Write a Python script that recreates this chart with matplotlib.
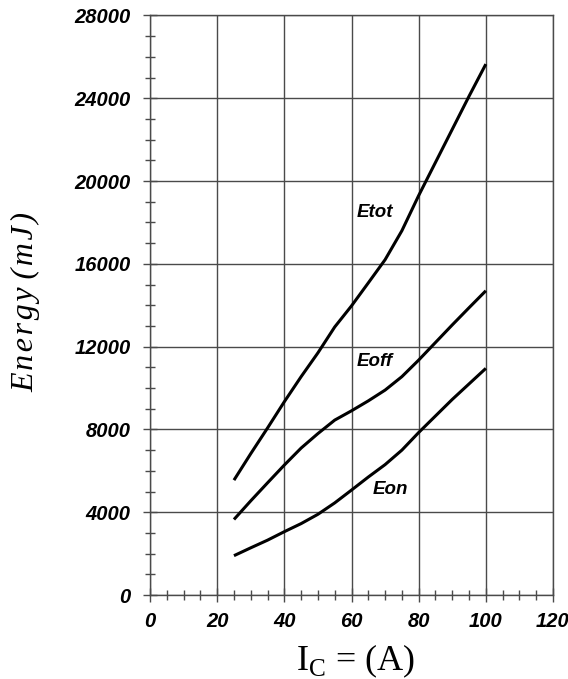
import matplotlib
matplotlib.use("Agg")
import matplotlib.pyplot as plt
from matplotlib.ticker import MultipleLocator

# Switching energy vs collector current
ic = [25, 30, 35, 40, 45, 50, 55, 60, 65, 70, 75, 80, 85, 90, 95, 100]
e_on = [1900, 2280, 2650, 3060, 3450, 3900, 4450, 5070, 5700, 6300, 7000,
        7850, 8650, 9450, 10200, 10950]
e_off = [3650, 4550, 5420, 6280, 7100, 7800, 8450, 8900, 9380, 9900, 10550,
         11350, 12200, 13050, 13880, 14700]
e_tot = [5550, 6830, 8070, 9340, 10550, 11700, 12950, 13970, 15080, 16200,
         17600, 19300, 20900, 22500, 24100, 25650]

curve_names = ["Etot", "Eoff", "Eon"]
label_pos = [(61.6, 18470), (61.5, 11300), (66.4, 5100)]

plt.rcParams["mathtext.fontset"] = "custom"
plt.rcParams["mathtext.rm"] = "Liberation Serif"

GRID = "#4a4a4a"

fig = plt.figure(figsize=(5.68, 6.79), dpi=100)
ax = fig.add_axes([0.2641, 0.1237, 0.7095, 0.8535])

for y in (e_tot, e_off, e_on):
    ax.plot(ic, y, color="black", lw=2.2, solid_capstyle="butt", zorder=3)

for name, (x, y) in zip(curve_names, label_pos):
    ax.text(x, y, name, ha="left", va="center", fontsize=13.5,
            family="Liberation Sans", weight="bold", style="italic")

ax.set_xlim(0, 120)
ax.set_ylim(0, 28000)
ax.xaxis.set_major_locator(MultipleLocator(20))
ax.xaxis.set_minor_locator(MultipleLocator(5))
ax.yaxis.set_major_locator(MultipleLocator(4000))
ax.yaxis.set_minor_locator(MultipleLocator(1000))

ax.grid(which="major", color=GRID, lw=1.0)
for s in ax.spines.values():
    s.set_color(GRID)
    s.set_linewidth(1.0)

ax.tick_params(which="major", direction="inout", length=10, width=1.0,
               color=GRID, pad=7)
ax.tick_params(which="minor", direction="inout", length=7.5, width=1.0,
               color=GRID)
ax.tick_params(axis="y", which="major", pad=9)

for lab in ax.get_xticklabels() + ax.get_yticklabels():
    lab.set_fontfamily("Liberation Sans")
    lab.set_fontweight("bold")
    lab.set_fontstyle("italic")
    lab.set_fontsize(14.5)

ax.set_xlabel(r"I$_\mathrm{C}$ = (A)", family="Liberation Serif", fontsize=26)
ax.xaxis.set_label_coords(0.51, -0.083)
hs = "\u200a"
ax.set_ylabel(hs.join("Energy") + hs * 3 + hs.join("(mJ)"),
              family="Liberation Serif", style="italic", fontsize=23)
ax.yaxis.set_label_coords(-0.273, 0.506)

fig.savefig("out.png", dpi=100, facecolor="white")
